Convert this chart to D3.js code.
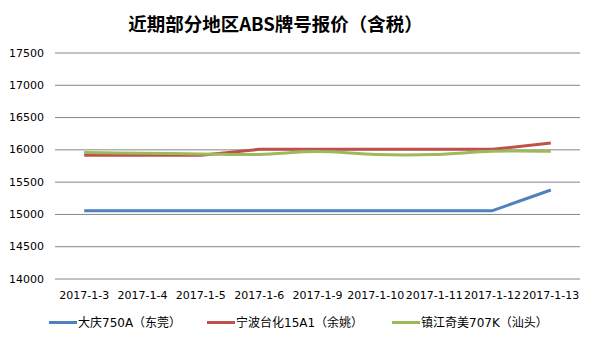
<!DOCTYPE html>
<html>
<head>
<meta charset="utf-8">
<script src="https://cdn.jsdelivr.net/npm/d3@7/dist/d3.min.js"></script>
<style>
  html, body { margin: 0; padding: 0; background: #fff; }
  svg { display: block; }
</style>
</head>
<body>
<svg id="chart" width="596" height="345"></svg>
<script>
// ABS grade quotations (tax included), by trading day
const dates = ["2017-1-3", "2017-1-4", "2017-1-5", "2017-1-6", "2017-1-9",
               "2017-1-10", "2017-1-11", "2017-1-12", "2017-1-13"];
const daqing750A = [15050, 15050, 15050, 15050, 15050, 15050, 15050, 15050, 15370];
const ningboTaihua15A1 = [15910, 15910, 15910, 16000, 16000, 16000, 16000, 16000, 16100];
const zhenjiangQimei707K = [15950, 15940, 15930, 15920, 15965, 15920, 15920, 15970, 15970];
const seriesNames = ["大庆750A（东莞）", "宁波台化15A1（余姚）", "镇江奇美707K（汕头）"];
const yTicks = [14000, 14500, 15000, 15500, 16000, 16500, 17000, 17500];
const title = "近期部分地区ABS牌号报价（含税）";

const series = [
  { name: seriesNames[0], values: daqing750A, color: "#4F81BD", curve: d3.curveLinear },
  { name: seriesNames[1], values: ningboTaihua15A1, color: "#C0504D", curve: d3.curveLinear },
  { name: seriesNames[2], values: zhenjiangQimei707K, color: "#9BBB59", curve: d3.curveCatmullRom.alpha(0.5) }
];

const svg = d3.select("#chart");
const font = "'DejaVu Sans', 'Noto Sans CJK SC', sans-serif";
const plot = { left: 55, right: 580, top: 52.5, bottom: 278.5 };

const x = d3.scaleBand().domain(dates).range([plot.left, plot.right]).padding(0);
const y = d3.scaleLinear().domain([14000, 17500]).range([plot.bottom, plot.top]);

// Title
svg.append("text")
  .attr("x", 275.5).attr("y", 31)
  .attr("text-anchor", "middle")
  .attr("font-family", "'Noto Sans CJK SC', sans-serif")
  .attr("font-weight", "bold")
  .attr("font-size", 18.5)
  .attr("fill", "#000")
  .text(title);

// Horizontal gridlines and value labels
const yAxis = d3.axisLeft(y).tickValues(yTicks).tickSize(-(plot.right - plot.left)).tickPadding(11).tickFormat(d3.format("d"));
const gy = svg.append("g").attr("transform", `translate(${plot.left},0)`).call(yAxis);
gy.select(".domain").remove();
gy.selectAll(".tick line").attr("stroke", "#868686").attr("stroke-width", 1);
gy.selectAll(".tick text")
  .attr("font-family", font).attr("font-size", 11).attr("fill", "#000");

// Category labels
const xAxis = d3.axisBottom(x).tickSize(0).tickPadding(13);
const gx = svg.append("g").attr("transform", `translate(0,${plot.bottom})`).call(xAxis);
gx.select(".domain").remove();
gx.selectAll(".tick text")
  .attr("font-family", font).attr("font-size", 11).attr("fill", "#000");

// Series lines
series.forEach(s => {
  const line = d3.line()
    .x((d, i) => x(dates[i]) + x.bandwidth() / 2)
    .y(d => y(d))
    .curve(s.curve);
  svg.append("path")
    .datum(s.values)
    .attr("fill", "none")
    .attr("stroke", s.color)
    .attr("stroke-width", 3)
    .attr("stroke-linejoin", "round")
    .attr("d", line);
});

// Legend
const legendX = [49, 207, 392];
const legendY = 322.5;
const lg = svg.append("g");
series.forEach((s, i) => {
  lg.append("line")
    .attr("x1", legendX[i]).attr("x2", legendX[i] + 28)
    .attr("y1", legendY).attr("y2", legendY)
    .attr("stroke", s.color).attr("stroke-width", 3);
  lg.append("text")
    .attr("x", legendX[i] + 29).attr("y", legendY + 4.5)
    .attr("font-family", font).attr("font-size", 12).attr("fill", "#000")
    .text(s.name);
});
</script>
</body>
</html>
